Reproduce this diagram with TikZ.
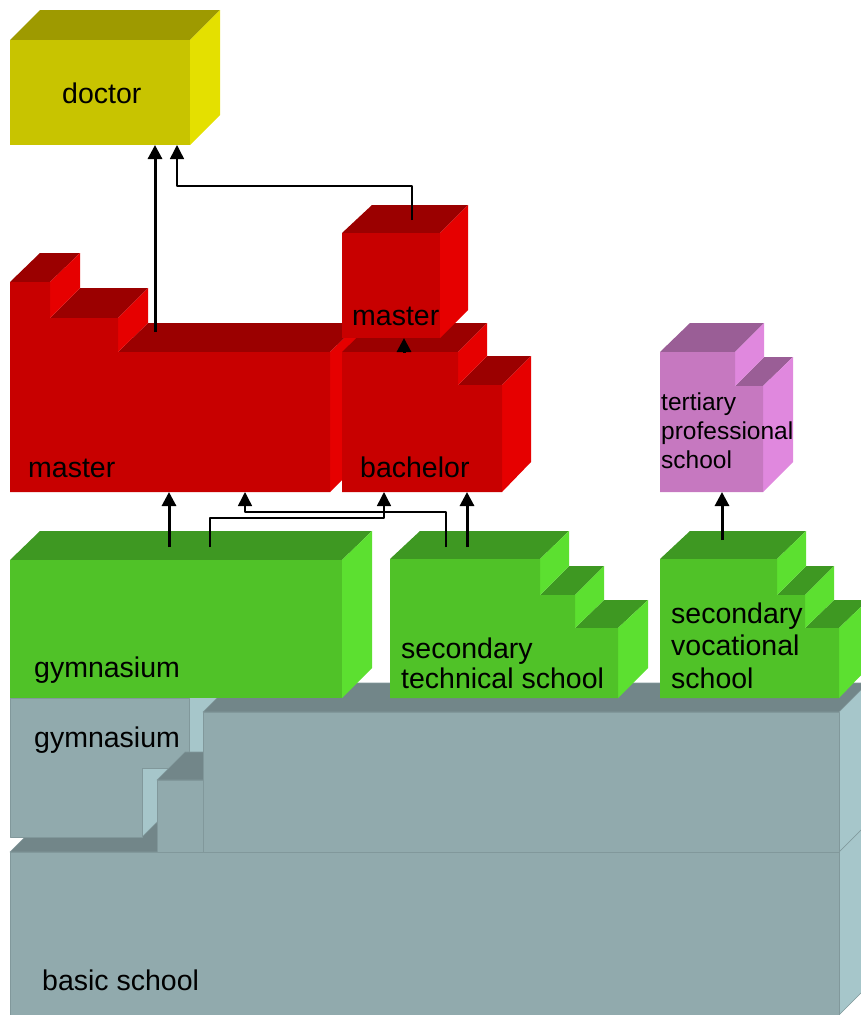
\documentclass[tikz,border=0pt]{standalone}
\usepackage{fontspec}
\setmainfont{Liberation Sans}
\usetikzlibrary{arrows.meta}
\definecolor{yelF}{RGB}{200,196,0}
\definecolor{yelT}{RGB}{158,154,0}
\definecolor{yelR}{RGB}{228,224,0}
\definecolor{redF}{RGB}{200,0,0}
\definecolor{redT}{RGB}{155,0,0}
\definecolor{redR}{RGB}{230,0,0}
\definecolor{pnkF}{RGB}{198,120,192}
\definecolor{pnkT}{RGB}{154,94,150}
\definecolor{pnkR}{RGB}{224,136,222}
\definecolor{grnF}{RGB}{80,194,40}
\definecolor{grnT}{RGB}{62,152,34}
\definecolor{grnR}{RGB}{92,224,48}
\definecolor{gryF}{RGB}{145,170,173}
\definecolor{gryT}{RGB}{114,134,137}
\definecolor{gryR}{RGB}{166,198,202}
\begin{document}
\begin{tikzpicture}[x=1pt,y=-1pt,line join=round,
	lbl/.style={anchor=base west,inner sep=0pt,align=left,font=\fontsize{28.5}{32.5}\selectfont},
	arr/.style={-{Triangle[width=14pt,length=14pt]},line width=3pt},
	elb/.style={arr,line width=1.5pt},
	gry/.style={fill=#1,draw=gryT!50!gryF,line width=.6pt}]
	\useasboundingbox (0,0) rectangle (861,1015);
	\clip (0,0) rectangle (861,1015);
	% basic school
	\path[gry=gryT] (10,852)--(39,823)--(868,823)--(839,852)--cycle;
	\path[gry=gryR] (839,852)--(868,823)--(868,986)--(839,1015)--cycle;
	\path[gry=gryF] (10,852) rectangle (839,1015);
	% gymnasium, lower level
	\path[gry=gryR] (189,698)--(218,669)--(218,739)--(189,768)--cycle (142,768)--(171,739)--(171,808)--(142,837)--cycle;
	\path[gry=gryF] (10,698)--(189,698)--(189,768)--(142,768)--(142,837)--(10,837)--cycle;
	\path[gry=gryT] (157,780)--(185,752)--(868,752)--(839,780)--cycle;
	\path[gry=gryF] (157,780) rectangle (839,852);
	\path[gry=gryT] (203,712)--(232,683)--(868,683)--(839,712)--cycle;
	\path[gry=gryR] (839,712)--(868,683)--(868,823)--(839,852)--cycle;
	\path[gry=gryF] (203,712) rectangle (839,852);
	% secondary level
	\fill[grnT] (10,560)--(40,531)--(372,531)--(342,560)--cycle;
	\fill[grnR] (342,560)--(372,531)--(372,668)--(342,698)--cycle;
	\fill[grnF] (10,560) rectangle (342,698);
	\fill[grnT] (390,559)--(420,531)--(569,531)--(540,559)--cycle (540,595)--(569,566)--(604,566)--(575,595)--cycle (575,628)--(604,600)--(648,600)--(618,628)--cycle;
	\fill[grnR] (540,559)--(569,531)--(569,566)--(540,595)--cycle (575,595)--(604,566)--(604,600)--(575,628)--cycle (618,628)--(648,600)--(648,668)--(618,698)--cycle;
	\fill[grnF] (390,559)--(540,559)--(540,595)--(575,595)--(575,628)--(618,628)--(618,698)--(390,698)--cycle;
	\fill[grnT] (660,559)--(690,531)--(806,531)--(777,559)--cycle (777,595)--(806,566)--(834,566)--(805,595)--cycle (805,628)--(834,600)--(868,600)--(839,628)--cycle;
	\fill[grnR] (777,559)--(806,531)--(806,566)--(777,595)--cycle (805,595)--(834,566)--(834,600)--(805,628)--cycle (839,628)--(868,600)--(868,668)--(839,698)--cycle;
	\fill[grnF] (660,559)--(777,559)--(777,595)--(805,595)--(805,628)--(839,628)--(839,698)--(660,698)--cycle;
	% tertiary level
	\fill[redT] (10,282)--(40,253)--(80,253)--(50,282)--cycle (50,318)--(80,288)--(148,288)--(118,318)--cycle (118,352)--(148,323)--(360,323)--(330,352)--cycle;
	\fill[redR] (50,282)--(80,253)--(80,288)--(50,318)--cycle (118,318)--(148,288)--(148,323)--(118,352)--cycle (330,352)--(360,323)--(360,462)--(330,492)--cycle;
	\fill[redF] (10,282)--(50,282)--(50,318)--(118,318)--(118,352)--(330,352)--(330,492)--(10,492)--cycle;
	\fill[redT] (342,352)--(372,323)--(487,323)--(458,352)--cycle (458,385)--(487,356)--(531,356)--(502,385)--cycle;
	\fill[redR] (458,352)--(487,323)--(487,356)--(458,385)--cycle (502,385)--(531,356)--(531,462)--(502,492)--cycle;
	\fill[redF] (342,352)--(458,352)--(458,385)--(502,385)--(502,492)--(342,492)--cycle;
	\fill[redT] (342,233)--(372,205)--(468,205)--(440,233)--cycle;
	\fill[redR] (440,233)--(468,205)--(468,310)--(440,338)--cycle;
	\fill[redF] (342,233) rectangle (440,338);
	\fill[pnkT] (660,352)--(690,323)--(764,323)--(735,352)--cycle (735,386)--(764,357)--(793,357)--(763,386)--cycle;
	\fill[pnkR] (735,352)--(764,323)--(764,357)--(735,386)--cycle (763,386)--(793,357)--(793,462)--(763,492)--cycle;
	\fill[pnkF] (660,352)--(735,352)--(735,386)--(763,386)--(763,492)--(660,492)--cycle;
	\fill[yelT] (10,40)--(40,10)--(220,10)--(190,40)--cycle;
	\fill[yelR] (190,40)--(220,10)--(220,115)--(190,145)--cycle;
	\fill[yelF] (10,40) rectangle (190,145);
	% labels
	\node[lbl] (doc) at (62,103) {doctor};
	\node[lbl] (mstL) at (28,477) {master};
	\node[lbl] (bach) at (360,477) {bachelor};
	\node[lbl] (mstS) at (352,325) {master};
	\node[lbl,font=\fontsize{24.5}{29}\selectfont] (tert) at (661,468) {tertiary\\professional\\school};
	\node[lbl] (gymG) at (34,677) {gymnasium};
	\node[lbl,font=\fontsize{28.5}{30}\selectfont] (tech) at (401,688) {secondary\\technical school};
	\node[lbl] (voc) at (671,688) {secondary\\vocational\\school};
	\node[lbl] (gymS) at (34,747) {gymnasium};
	\node[lbl] (basic) at (42,990) {basic school};
	% arrow ends
	\path
	(155,332) coordinate (mA) (155,145) coordinate (dA)
	(412,220) coordinate (sA) (177,145) coordinate (dB) (0,186) coordinate (jD)
	(404,353) coordinate (bA) (404,338) coordinate (sB)
	(169,547) coordinate (gA) (169,492) coordinate (mB)
	(210,547) coordinate (gB) (384,492) coordinate (bB) (0,518) coordinate (jG)
	(446,547) coordinate (tA) (245,492) coordinate (mC) (0,512) coordinate (jT)
	(467,547) coordinate (tB) (467,492) coordinate (bC)
	(722,540) coordinate (vA) (722,492) coordinate (pA)
		;
	\draw[arr] (mA)--(dA);
	\draw[elb] (sA)--(sA|-jD)-|(dB);
	\draw[arr] (bA)--(sB);
	\draw[arr] (gA)--(mB);
	\draw[elb] (gB)--(gB|-jG)-|(bB);
	\draw[elb] (tA)--(tA|-jT)-|(mC);
	\draw[arr] (tB)--(bC);
	\draw[arr] (vA)--(pA);
\end{tikzpicture}
\end{document}
